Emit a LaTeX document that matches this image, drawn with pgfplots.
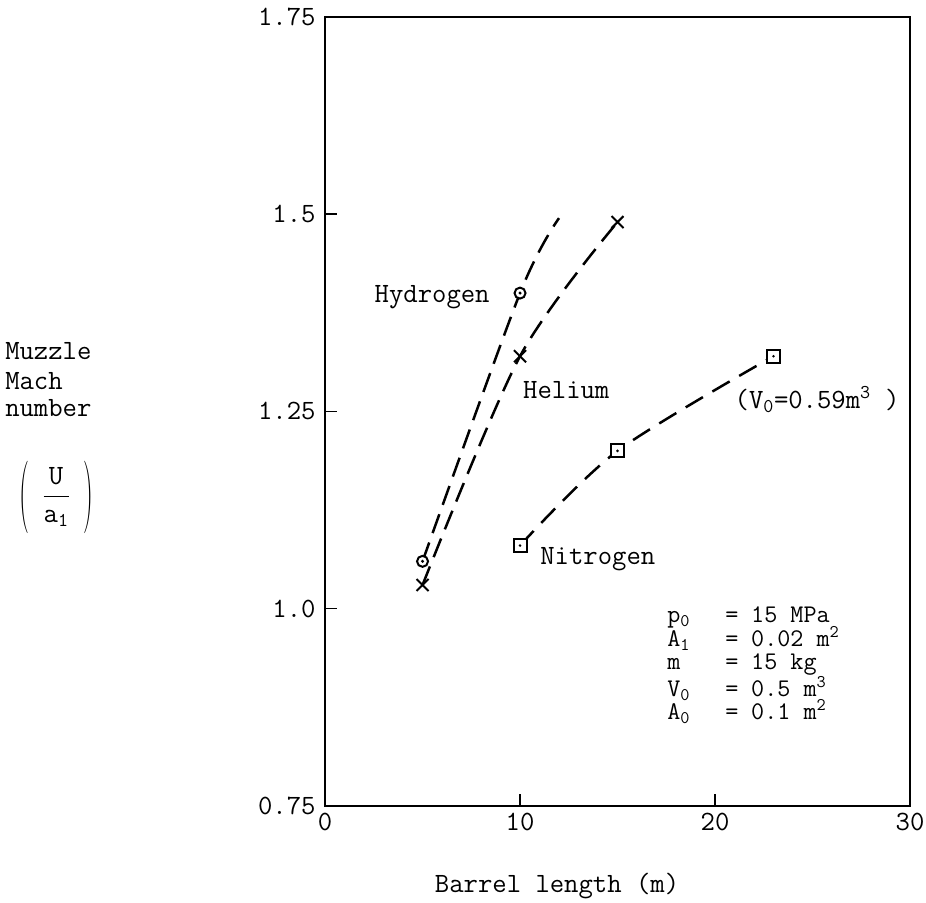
\RequirePackage{fix-cm}
\documentclass[border=0pt]{standalone}
\usepackage{fontspec}
\usepackage{graphicx}
\usepackage{pgfplots}
\pgfplotsset{compat=1.18}
\renewcommand{\familydefault}{\ttdefault}

\pgfdeclareplotmark{odot}{%
  \pgfpathcircle{\pgfpointorigin}{\pgfplotmarksize}\pgfusepathqfillstroke
  \begin{pgfscope}\pgfsetfillcolor{black}%
  \pgfpathcircle{\pgfpointorigin}{0.3\pgfplotmarksize}\pgfusepathqfill\end{pgfscope}}
\pgfdeclareplotmark{sqdot}{%
  \pgfpathrectangle{\pgfpoint{-\pgfplotmarksize}{-\pgfplotmarksize}}{\pgfpoint{2\pgfplotmarksize}{2\pgfplotmarksize}}\pgfusepathqfillstroke
  \begin{pgfscope}\pgfsetfillcolor{black}%
  \pgfpathcircle{\pgfpointorigin}{0.22\pgfplotmarksize}\pgfusepathqfill\end{pgfscope}}

\newcommand{\prow}[2]{{\fontsize{25.5}{24}\selectfont\makebox[58bp][l]{#1}\makebox[26bp][l]{=}#2}}

\begin{document}
\fontsize{28}{24.5}\selectfont
\begin{tikzpicture}
\begin{axis}[
  scale only axis, width=585bp, height=789bp,
  xmin=0, xmax=30, ymin=0.75, ymax=1.75,
  axis line style={line width=2.5bp},
  xtick={0,10,20,30}, xticklabels={0,10,20,30},
  ytick={0.75,1,1.25,1.5,1.75}, yticklabels={0.75,1.0,1.25,1.5,1.75},
  tick align=inside, tick pos=left,
  major tick length=12bp,
  tick style={line width=1.5bp, black},
  every tick label/.append style={font=\fontsize{28}{28}\selectfont\ttfamily},
  xticklabel style={yshift=2bp},
  /pgf/number format/assume math mode=true,
  clip=false,
]
% dashed curves
\addplot[line width=2.5bp, dash pattern=on 20bp off 10bp, smooth] coordinates {(5,1.06) (10,1.40) (12.0,1.495)};
\addplot[line width=2.5bp, dash pattern=on 20bp off 10bp, smooth] coordinates {(5,1.03) (10,1.32) (15,1.49)};
\addplot[line width=2.5bp, dash pattern=on 20bp off 11bp, smooth] coordinates {(10,1.08) (15,1.20) (23,1.32)};
% markers
\addplot[only marks, mark=odot, mark size=5.5bp, mark options={fill=white, line width=2bp, solid}] coordinates {(5,1.06) (10,1.40)};
\addplot[only marks, mark=x, mark size=8.5bp, mark options={line width=2bp, solid}] coordinates {(5,1.03) (10,1.32) (15,1.49)};
\addplot[only marks, mark=sqdot, mark size=6.5bp, mark options={fill=white, line width=2bp, solid}] coordinates {(10,1.08) (15,1.20) (23,1.32)};
% curve labels
\node[anchor=base east, inner sep=0] at (axis cs:8.45,1.388) {Hydrogen};
\node[anchor=base west, inner sep=0] at (axis cs:10.15,1.267) {Helium};
\node[anchor=base west, inner sep=0] at (axis cs:11.03,1.0555) {Nitrogen};
\node[anchor=base west, inner sep=0] at (axis cs:21.0,1.254) {(V\textsubscript{0}=0.59m\textsuperscript{3} )};
% parameters
\node[anchor=base west, inner sep=0] at (axis cs:17.54,0.982) {\prow{p\textsubscript{0}}{15 MPa}};
\node[anchor=base west, inner sep=0] at (axis cs:17.54,0.9515) {\prow{A\textsubscript{1}}{0.02 m\textsuperscript{2}}};
\node[anchor=base west, inner sep=0] at (axis cs:17.54,0.9224) {\prow{m}{15 kg}};
\node[anchor=base west, inner sep=0] at (axis cs:17.54,0.8882) {\prow{V\textsubscript{0}}{0.5 m\textsuperscript{3}}};
\node[anchor=base west, inner sep=0] at (axis cs:17.54,0.8590) {\prow{A\textsubscript{0}}{0.1 m\textsuperscript{2}}};
% y label
\node[anchor=base west, inner sep=0] at (axis cs:-16.41,1.3153) {Muzzle};
\node[anchor=base west, inner sep=0] at (axis cs:-16.41,1.2773) {Mach};
\node[anchor=base west, inner sep=0] at (axis cs:-16.41,1.2430) {number};
\node[inner sep=0] at (axis cs:-15.44,1.1416) {\scalebox{1}[2.6]{\rmfamily(}};
\node[inner sep=0] at (axis cs:-13.79,1.1416) {$\displaystyle\frac{\mathtt{U}}{\mathtt{a}_{\mathtt{1}}}$};
\node[inner sep=0] at (axis cs:-12.15,1.1416) {\scalebox{1}[2.6]{\rmfamily)}};
% x label
\node[anchor=base, inner sep=0] at (axis cs:11.9,0.6397) {Barrel length (m)};
\coordinate (BL) at (axis cs:-16.67,0.6271);
\coordinate (TR) at (axis cs:30.82,1.7715);
\end{axis}
\pgfresetboundingbox
\useasboundingbox (BL) rectangle (TR);
\end{tikzpicture}
\end{document}
